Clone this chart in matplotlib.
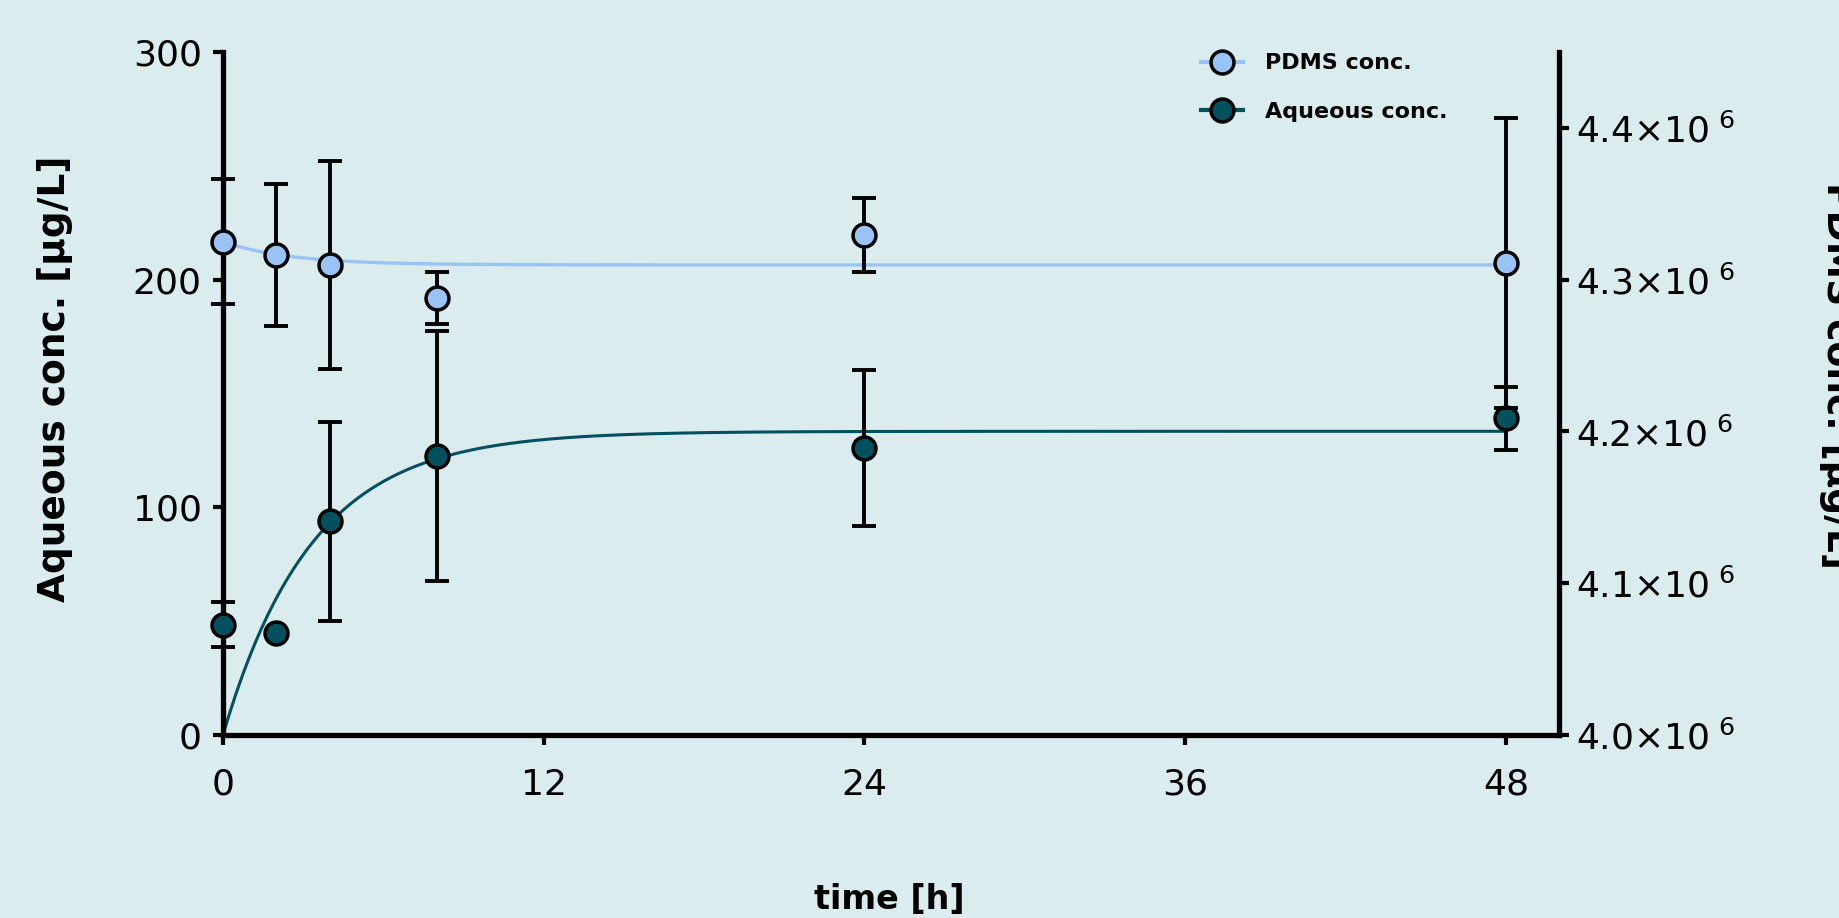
import numpy as np
import matplotlib
matplotlib.use("Agg")
import matplotlib.pyplot as plt
from matplotlib.lines import Line2D
from matplotlib.ticker import FuncFormatter

# sampling times [h]
time = [0, 2, 4, 8, 24, 48]

# aqueous concentration [ug/L], mean and SD
aq_mean = [48.6, 44.7, 93.9, 122.5, 126.1, 139.1]
aq_sd = [9.8, 0.0, 43.7, 54.9, 34.1, 13.9]

# PDMS concentration [ug/L], mean and SD
pdms_mean = [4.3249e6, 4.3161e6, 4.3097e6, 4.2878e6, 4.3292e6, 4.3111e6]
pdms_sd = [41300, 47000, 68500, 17400, 24200, 95500]

# one-phase fit parameters
aq_plateau, aq_k = 133.4, 0.30
pdms_y0, pdms_plateau, pdms_k = 4.3249e6, 4.3096e6, 0.40

x_ticks = [0, 12, 24, 36, 48]
left_ticks = [0, 100, 200, 300]
right_ticks = [4.0e6, 4.1e6, 4.2e6, 4.3e6, 4.4e6]

bg = "#daecee"
pdms_col = "#99c2f5"
aq_col = "#03505f"

plt.rcParams["mathtext.default"] = "regular"

fig = plt.figure(figsize=(18.39, 9.18), dpi=100, facecolor=bg)
ax = fig.add_axes([0.1212, 0.199, 0.7267, 0.7448])
ax.set_facecolor("none")
ax2 = ax.twinx()
ax2.set_facecolor("none")

# fitted curves
t_fit = np.linspace(0, 48, 400)
aq_fit = aq_plateau * (1 - np.exp(-aq_k * t_fit))
pdms_fit = pdms_plateau + (pdms_y0 - pdms_plateau) * np.exp(-pdms_k * t_fit)
ax.plot(t_fit, aq_fit, color=aq_col, lw=2.2, zorder=2, clip_on=False)
ax2.plot(t_fit, pdms_fit, color=pdms_col, lw=2.4, zorder=2, clip_on=False)

ms = 16.5
ebkw = dict(fmt="none", ecolor="black", elinewidth=2.8, capsize=8.5, capthick=2.8,
            zorder=3, clip_on=False)
mkw = dict(marker="o", ms=ms, mec="black", mew=2.5, ls="none", zorder=4,
           clip_on=False)

ax.errorbar(time, aq_mean, yerr=aq_sd, **ebkw)
ax.plot(time, aq_mean, mfc=aq_col, **mkw)
ax2.errorbar(time, pdms_mean, yerr=pdms_sd, **ebkw)
ax2.plot(time, pdms_mean, mfc=pdms_col, **mkw)

ax.set_xlim(0, 50)
ax.set_ylim(0, 300)
ax2.set_ylim(4.0e6, 4.45e6)
ax.set_xticks(x_ticks)
ax.set_yticks(left_ticks)
ax2.set_yticks(right_ticks)
ax2.yaxis.set_major_formatter(FuncFormatter(lambda v, p: r"$%.1f{\times}10^{\ 6}$" % (v / 1e6)))

for s in ["top", "right"]:
    ax.spines[s].set_visible(False)
for s in ["top", "left", "bottom"]:
    ax2.spines[s].set_visible(False)
for s in ["left", "bottom"]:
    ax.spines[s].set_linewidth(3.8)
ax2.spines["right"].set_linewidth(3.8)

ax.tick_params(axis="both", direction="out", length=7.2, width=3, labelsize=26)
ax.tick_params(axis="x", pad=16)
ax.tick_params(axis="y", pad=8)
ax2.tick_params(axis="y", direction="out", length=7.2, width=3, labelsize=26, pad=5)

# axis titles
fig.text(0.4835, 0.02, "time [h]", fontsize=24, fontweight="bold", ha="center", va="center")
fig.text(0.030, 0.587, "Aqueous conc. [µg/L]", fontsize=27, fontweight="bold",
         rotation=90, ha="center", va="center")
fig.text(0.999, 0.591, "PDMS conc. [µg/L]", fontsize=27, fontweight="bold",
         rotation=270, ha="center", va="center")

handles = [
    Line2D([], [], color=pdms_col, lw=3, marker="o", ms=ms, mfc=pdms_col, mec="black", mew=2.5),
    Line2D([], [], color=aq_col, lw=3, marker="o", ms=ms, mfc=aq_col, mec="black", mew=2.5),
]
leg = fig.legend(handles, ["PDMS conc.", "Aqueous conc."], loc="upper left",
                 bbox_to_anchor=(0.647, 0.954), frameon=False, borderpad=0,
                 handlelength=1.9, handletextpad=1.0, labelspacing=1.3,
                 prop={"size": 16, "weight": "bold"})

fig.savefig("out.png", dpi=100, facecolor=bg)
